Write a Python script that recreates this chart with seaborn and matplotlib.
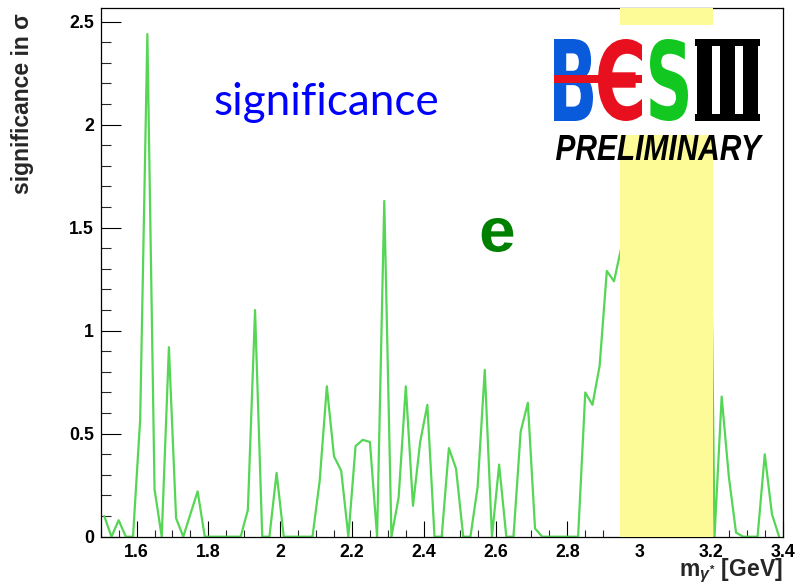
import numpy as np
import pandas as pd
import matplotlib
matplotlib.use("Agg")
import matplotlib.pyplot as plt
import seaborn as sns
from matplotlib.ticker import MultipleLocator, FuncFormatter
from matplotlib.patheffects import AbstractPathEffect
from matplotlib.textpath import TextPath
from matplotlib.font_manager import FontProperties
from matplotlib.transforms import Affine2D
from matplotlib.patches import Rectangle

# ---------------- data ----------------
mass_start, mass_step, n_bins = 1.51, 0.02, 95
mass = np.round(mass_start + mass_step * np.arange(n_bins), 2)   # bin centres [GeV]

significance = [
    0.10, 0.00, 0.08, 0.00, 0.00, 0.57, 2.44, 0.23, 0.00, 0.92,   # 1.51-1.69
    0.09, 0.00, 0.11, 0.22, 0.00, 0.00, 0.00, 0.00, 0.00, 0.00,   # 1.71-1.89
    0.13, 1.10, 0.00, 0.00, 0.31, 0.00, 0.00, 0.00, 0.00, 0.00,   # 1.91-2.09
    0.27, 0.73, 0.39, 0.32, 0.00, 0.44, 0.47, 0.46, 0.00, 1.63,   # 2.11-2.29
    0.00, 0.19, 0.73, 0.15, 0.46, 0.64, 0.00, 0.00, 0.43, 0.33,   # 2.31-2.49
    0.00, 0.00, 0.24, 0.81, 0.00, 0.35, 0.00, 0.00, 0.51, 0.65,   # 2.51-2.69
    0.04, 0.00, 0.00, 0.00, 0.00, 0.00, 0.00, 0.70, 0.64, 0.83,   # 2.71-2.89
    1.29, 1.24, 1.40, 1.55, 1.70, 1.90, 2.20, 2.60, 3.50, 5.00,   # 2.91-3.09
    4.20, 3.40, 3.10, 3.00, 3.00, 0.00, 0.68, 0.29, 0.02, 0.00,   # 3.11-3.29
    0.00, 0.00, 0.40, 0.11, 0.00,                                 # 3.31-3.39
]

veto_window = (2.948, 3.205)          # J/psi veto band [GeV]
x_limits = (1.5, 3.4)
y_limits = (0.0, 2.565)

df = pd.DataFrame({"mass": mass, "significance": significance})

# ---------------- style ----------------
W, H, DPI = 797, 584, 100
sns.set_theme(style="white")
plt.rcParams["font.family"] = ["Liberation Sans", "DejaVu Sans"]
plt.rcParams["font.weight"] = "bold"
plt.rcParams["mathtext.fontset"] = "custom"
plt.rcParams["mathtext.rm"] = "Liberation Sans"
plt.rcParams["mathtext.it"] = "Liberation Sans:italic"
plt.rcParams["mathtext.bf"] = "Liberation Sans:bold"

fig = plt.figure(figsize=(W / DPI, H / DPI), dpi=DPI, facecolor="white")
ax = fig.add_axes([100.7 / W, 1 - 536.7 / H, (782.7 - 100.7) / W, (536.7 - 8.3) / H])
ax.set_facecolor("white")

sns.lineplot(data=df, x="mass", y="significance", ax=ax, color="#55d655",
             linewidth=1.6, estimator=None, sort=False, zorder=2)

ax.axvspan(*veto_window, color="#fdfb98", lw=0, zorder=3)

ax.set_xlim(*x_limits)
ax.set_ylim(*y_limits)
ax.xaxis.set_major_locator(MultipleLocator(0.2))
ax.xaxis.set_minor_locator(MultipleLocator(0.05))
ax.yaxis.set_major_locator(MultipleLocator(0.5))
ax.yaxis.set_minor_locator(MultipleLocator(0.1))
fmt = FuncFormatter(lambda v, p: f"{v:g}")
ax.xaxis.set_major_formatter(fmt)
ax.yaxis.set_major_formatter(fmt)

for s in ax.spines.values():
    s.set_visible(True)
    s.set_color("black")
    s.set_linewidth(0.9)

ax.tick_params(axis="x", which="major", direction="in", length=11.5, width=0.8,
               labelsize=12.8, pad=5, colors="black", bottom=True, top=False)
ax.tick_params(axis="x", which="minor", direction="in", length=5.2, width=0.8,
               bottom=True, top=False)
ax.tick_params(axis="y", which="major", direction="in", length=14.4, width=0.8,
               labelsize=12.8, pad=5, colors="black", left=True, right=False)
ax.tick_params(axis="y", which="minor", direction="in", length=7.2, width=0.8,
               left=True, right=False)

ax.set_xlabel(r"m$_{\gamma^{*}}$ [GeV]", fontsize=16.5, fontweight="bold", loc="right")
ax.xaxis.set_label_coords(1.0, -0.038)
ax.set_ylabel("significance in σ", fontsize=16.5, fontweight="bold", loc="top")
ax.yaxis.set_label_coords(-0.098, 0.991)


# ---------------- helper: fit real text into a pixel box ----------------
class StretchY(AbstractPathEffect):
    """Stretch text glyphs vertically about their baseline (display pixels)."""
    def __init__(self, sy, y0):
        super().__init__()
        self.sy = sy
        self.y0 = y0

    def draw_path(self, renderer, gc, tpath, affine, rgbFace=None):
        t = affine + Affine2D().translate(0, -self.y0).scale(1.0, self.sy).translate(0, self.y0)
        renderer.draw_path(gc, tpath, t, rgbFace)


def fit_text(s, x_left, y_top, x_right, y_bottom, color, family,
             weight="normal", style="normal", zorder=6):
    fp = FontProperties(family=family, weight=weight, style=style)
    tp = TextPath((0, 0), s, size=100, prop=fp)
    ext = tp.get_extents()
    scale = (x_right - x_left) / ext.width          # size from width
    fontsize = 100 * scale * 72 / DPI
    ink_h = ext.height * scale
    sy = (y_bottom - y_top) / ink_h
    anchor_x = x_left - ext.x0 * scale
    base_y = (H - y_bottom) - sy * ext.y0 * scale
    t = fig.text(anchor_x / W, base_y / H, s, ha="left", va="baseline",
                 fontsize=fontsize, color=color, family=family,
                 weight=weight, style=style, zorder=zorder)
    if abs(sy - 1) > 0.01:
        t.set_path_effects([StretchY(sy, base_y)])
    return t


# annotations
fit_text("significance", 215, 83, 437, 123, "#0000ff", ["Lato", "DejaVu Sans"])
fit_text("e", 481.7, 218, 513.3, 252, "#008000", ["Liberation Sans"], weight="bold")

# BESIII logo (white box covers the veto band)
fig.add_artist(Rectangle((545 / W, 1 - 135 / H), 230 / W, 110 / H,
                         transform=fig.transFigure, facecolor="white",
                         edgecolor="none", zorder=5))
fit_text("B", 554, 39, 593, 121, "#0a5adc", ["DejaVu Sans"], weight="bold")
fit_text("Є", 598, 39, 642, 121, "#e8101e", ["DejaVu Sans"], weight="bold")
fit_text("S", 650, 39, 688, 121, "#12c820", ["DejaVu Sans"], weight="bold")
fit_text("Ⅲ", 697, 39, 758, 121, "black", ["DejaVu Sans", "DejaVu Serif", "Noto Sans"], weight="bold")
for ytop in (39, 114):
    fig.add_artist(Rectangle((695 / W, 1 - (ytop + 7) / H), 65 / W, 7 / H,
                             transform=fig.transFigure, facecolor="black",
                             edgecolor="none", zorder=7))
fig.add_artist(Rectangle((554 / W, 1 - 83.5 / H), 88 / W, 8 / H,
                         transform=fig.transFigure, facecolor="#e8101e",
                         edgecolor="none", zorder=7))
fit_text("PRELIMINARY", 556, 135, 763, 160, "black", ["Liberation Sans"],
         weight="bold", style="italic")

fig.savefig("out.png", dpi=DPI, facecolor="white")
